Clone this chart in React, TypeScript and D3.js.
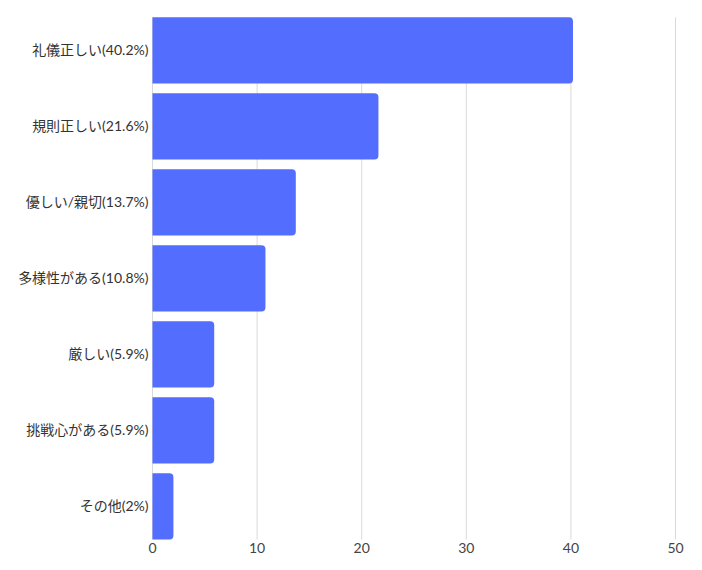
import { useEffect, useRef } from 'react';
import * as d3 from 'd3';

const categories = [
  '礼儀正しい(40.2%)',
  '規則正しい(21.6%)',
  '優しい/親切(13.7%)',
  '多様性がある(10.8%)',
  '厳しい(5.9%)',
  '挑戦心がある(5.9%)',
  'その他(2%)',
];
const values = [40.2, 21.6, 13.7, 10.8, 5.9, 5.9, 2];
const xTicks = [0, 10, 20, 30, 40, 50];

export default function App() {
  const svgRef = useRef<SVGSVGElement>(null);

  useEffect(() => {
    if (!svgRef.current) return;
    const width = 702;
    const height = 570;
    const left = 152.5;
    const right = 675.5;
    const top = 17.3;
    const bottom = 539.5;

    const svg = d3.select(svgRef.current);
    svg.selectAll('*').remove();

    const x = d3.scaleLinear().domain([0, 50]).range([left, right]);
    const y = d3
      .scaleBand<string>()
      .domain(categories)
      .range([top, bottom])
      .paddingInner(0.13)
      .paddingOuter(0);

    const font = "Lato, 'Noto Sans CJK JP', 'Noto Sans', sans-serif";

    // gridlines
    svg
      .append('g')
      .selectAll('line')
      .data(xTicks)
      .enter()
      .append('line')
      .attr('x1', (d) => x(d))
      .attr('x2', (d) => x(d))
      .attr('y1', top)
      .attr('y2', bottom)
      .attr('stroke', '#d9d9d9')
      .attr('stroke-width', 1);

    // bars with rounded right end
    const r = 4;
    svg
      .append('g')
      .selectAll('path')
      .data(values)
      .enter()
      .append('path')
      .attr('fill', '#536dfe')
      .attr('d', (d, i) => {
        const x0 = x(0);
        const x1 = x(d);
        const y0 = y(categories[i])!;
        const h = y.bandwidth();
        const rr = Math.min(r, (x1 - x0) / 2);
        return `M${x0},${y0}H${x1 - rr}Q${x1},${y0} ${x1},${y0 + rr}V${y0 + h - rr}Q${x1},${y0 + h} ${x1 - rr},${y0 + h}H${x0}Z`;
      });

    // category labels
    svg
      .append('g')
      .selectAll('text')
      .data(categories)
      .enter()
      .append('text')
      .attr('x', left - 4)
      .attr('y', (d) => y(d)! + y.bandwidth() / 2)
      .attr('dy', '0.35em')
      .attr('text-anchor', 'end')
      .attr('font-family', font)
      .attr('font-size', 14)
      .attr('fill', '#333')
      .text((d) => d);

    // x tick labels
    svg
      .append('g')
      .selectAll('text')
      .data(xTicks)
      .enter()
      .append('text')
      .attr('x', (d) => x(d))
      .attr('y', 548)
      .attr('dy', '0.35em')
      .attr('text-anchor', 'middle')
      .attr('font-family', font)
      .attr('font-size', 14)
      .attr('fill', '#444')
      .text((d) => d);

    svg.attr('width', width).attr('height', height);
  }, []);

  return (
    <svg
      ref={svgRef}
      width={702}
      height={570}
      style={{ position: 'absolute', left: 0, top: 0, background: '#fff' }}
    />
  );
}
